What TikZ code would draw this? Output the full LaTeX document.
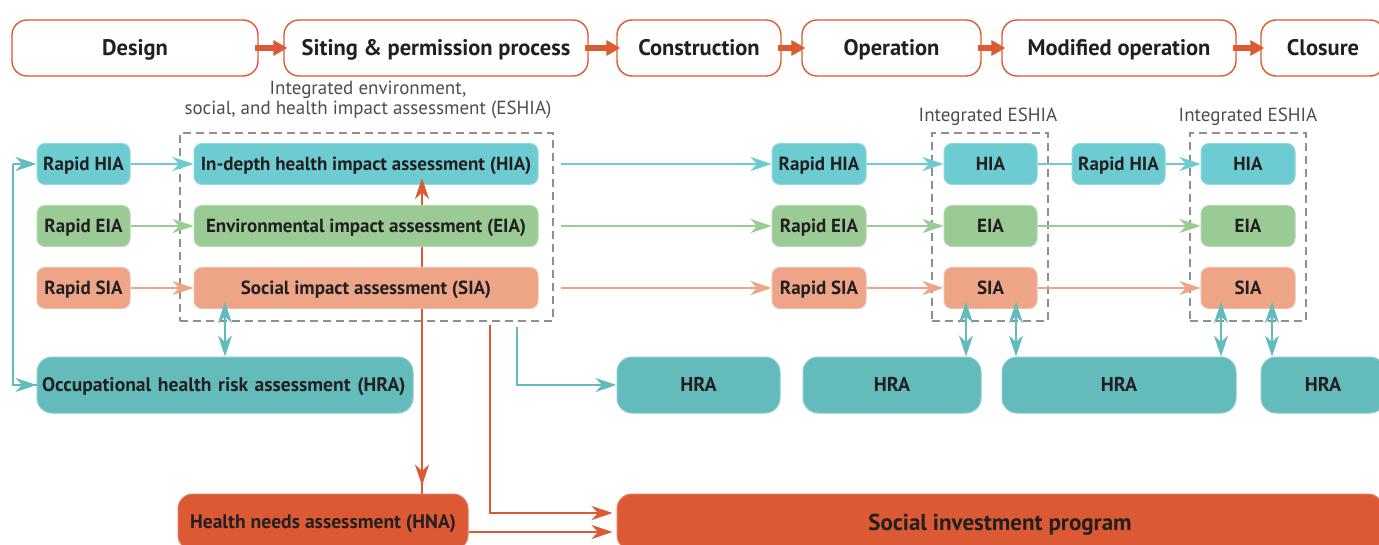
\documentclass[tikz,border=0pt]{standalone}
\usepackage{fontspec}
\setmainfont{PT Sans}
\usetikzlibrary{arrows.meta,backgrounds}

\definecolor{ink}{HTML}{231F20}
\definecolor{accent}{HTML}{DC5A33}
\definecolor{hiacol}{HTML}{6DCBD2}
\definecolor{eiacol}{HTML}{9ACB94}
\definecolor{siacol}{HTML}{EDA487}
\definecolor{hracol}{HTML}{64BBBC}
\definecolor{dashgrey}{HTML}{8D8F92}
\definecolor{labelgrey}{HTML}{4D4D4F}

\tikzset{
  fishtip/.tip={Stealth[length=21pt, width=14pt, inset=6.5pt]},
  stage/.style={draw=accent, line width=1.4pt, fill=white, rounded corners=15pt,
    minimum height=56pt, inner sep=0pt, text=ink,
    font=\fontsize{22.5}{24}\selectfont\bfseries, text height=15.8pt, text depth=0pt},
  cell/.style={rounded corners=8pt, minimum height=41pt, inner sep=0pt, text=ink,
    line width=1pt, font=\fontsize{19}{21}\selectfont\bfseries,
    text height=13.3pt, text depth=0pt},
  hiabox/.style={cell, fill=hiacol, draw=hiacol!75!white},
  eiabox/.style={cell, fill=eiacol, draw=eiacol!75!white},
  siabox/.style={cell, fill=siacol, draw=siacol!75!white},
  bigbox/.style={rounded corners=15pt, minimum height=56pt, inner sep=0pt, text=ink,
    line width=1pt, font=\fontsize{19.6}{21}\selectfont\bfseries,
    text height=13.7pt, text depth=0pt},
  hrabox/.style={bigbox, fill=hracol, draw=hracol!75!white},
  redbox/.style={bigbox, fill=accent, draw=accent!80!white},
  eshia/.style={draw=dashgrey, dash pattern=on 8pt off 5pt, line width=2.6pt,
    inner sep=0pt},
  eslabel/.style={text=labelgrey, align=center, inner sep=0pt,
    font=\fontsize{19}{20}\selectfont},
  flow/.style={line width=2.4pt, -fishtip},
  twoway/.style={line width=2.4pt, draw=hracol, fishtip-fishtip, shorten <=-7pt},
  stagearrow/.style={draw=accent, line width=5.5pt, -{Triangle[length=14pt, width=15pt]},
    shorten <=-4pt, shorten >=-4pt},
}

\begin{document}
\begin{tikzpicture}[x=1pt, y=-1pt]
\clip (0,0) rectangle (1379,545);

% project stages
\node[stage, minimum width=246pt] (design)  at (135,48)    {Design};
\node[stage, minimum width=304pt] (siting)  at (436,48)    {Siting \& permission process};
\node[stage, minimum width=164pt] (constr)  at (699,48)    {Construction};
\node[stage, minimum width=179pt] (oper)    at (891.5,48)  {Operation};
\node[stage, minimum width=234pt] (modop)   at (1119,48)   {Modified operation};
\node[stage, minimum width=124pt] (closure) at (1323,48)   {Closure};

\draw[stagearrow] (design.east) -- (siting.west);
\draw[stagearrow] (siting.east) -- (constr.west);
\draw[stagearrow] (constr.east) -- (oper.west);
\draw[stagearrow] (oper.east) -- (modop.west);
\draw[stagearrow] (modop.east) -- (closure.west);

% integrated assessment frames
\node[eshia, minimum width=373pt, minimum height=188pt] (esbig) at (366.5,227) {};
\node[eshia, minimum width=116pt, minimum height=188pt] (esone) at (990,227) {};
\node[eshia, minimum width=116pt, minimum height=188pt] (estwo) at (1248,227) {};
\node[eslabel] (esbiglab) at (368,100) {Integrated environment,\\social, and health impact assessment (ESHIA)};
\node[eslabel] (esonelab) at (988,117) {Integrated ESHIA};
\node[eslabel] (estwolab) at (1248,117) {Integrated ESHIA};

% design stage: rapid screenings
\node[hiabox, minimum width=93pt] (rhia) at (83.5,164) {Rapid HIA};
\node[eiabox, minimum width=93pt] (reia) at (83.5,226) {Rapid EIA};
\node[siabox, minimum width=93pt] (rsia) at (83.5,288) {Rapid SIA};

% siting stage: in-depth assessments
\node[hiabox, minimum width=344pt] (ihia) at (366,164) {In-depth health impact assessment (HIA)};
\node[eiabox, minimum width=344pt] (ieia) at (366,226) {Environmental impact assessment (EIA)};
\node[siabox, minimum width=344pt] (isia) at (366,288) {Social impact assessment (SIA)};

% construction stage
\node[hiabox, minimum width=94pt] (chia) at (819,164) {Rapid HIA};
\node[eiabox, minimum width=94pt] (ceia) at (819,226) {Rapid EIA};
\node[siabox, minimum width=94pt] (csia) at (819,288) {Rapid SIA};

% operation stage
\node[hiabox, minimum width=93pt] (ohia) at (990.5,164) {HIA};
\node[eiabox, minimum width=93pt] (oeia) at (990.5,226) {EIA};
\node[siabox, minimum width=93pt] (osia) at (990.5,288) {SIA};

% modified operation stage
\node[hiabox, minimum width=93pt] (mhia) at (1118.5,164) {Rapid HIA};
\node[hiabox, minimum width=94pt] (fhia) at (1248,164) {HIA};
\node[eiabox, minimum width=94pt] (feia) at (1248,226) {EIA};
\node[siabox, minimum width=94pt] (fsia) at (1248,288) {SIA};

% occupational health risk assessments
\node[hrabox, minimum width=376pt, text width=366pt, align=left] (occ) at (225,385) {Occupational health risk assessment (HRA)};
\node[hrabox, minimum width=163pt, font=\fontsize{20}{22}\selectfont\bfseries] (hraone)   at (698.5,385) {HRA};
\node[hrabox, minimum width=178pt, font=\fontsize{20}{22}\selectfont\bfseries] (hratwo)   at (892,385)   {HRA};
\node[hrabox, minimum width=234pt, font=\fontsize{20}{22}\selectfont\bfseries] (hrathree) at (1119,385)  {HRA};
\node[hrabox, minimum width=124pt, font=\fontsize{20}{22}\selectfont\bfseries] (hrafour)  at (1323,385)  {HRA};

% health needs and social investment
\node[redbox, minimum width=290pt] (hna) at (323,522) {Health needs assessment (HNA)};
\node[redbox, minimum width=766pt, font=\fontsize{23}{25}\selectfont\bfseries,
  text height=16pt] (sip) at (1000,522) {Social investment program};

% connectors within the assessment rows
\draw[flow, draw=hiacol] (rhia) -- (ihia);
\draw[flow, draw=eiacol] (reia) -- (ieia);
\draw[flow, draw=siacol] (rsia) -- (isia);

\draw[flow, draw=hiacol] ([xshift=22pt]ihia.east) -- (chia.west);
\draw[flow, draw=eiacol] ([xshift=22pt]ieia.east) -- (ceia.west);
\draw[flow, draw=siacol] ([xshift=22pt]isia.east) -- (csia.west);

\draw[flow, draw=hiacol] (chia) -- (ohia);
\draw[flow, draw=eiacol] (ceia) -- (oeia);
\draw[flow, draw=siacol] (csia) -- (osia);

\draw[line width=2.4pt, draw=hiacol] (ohia) -- (mhia);
\draw[flow, draw=hiacol] (mhia) -- (fhia);
\draw[flow, draw=eiacol] (oeia) -- (feia);
\draw[flow, draw=siacol] (osia) -- (fsia);

% feedback loop on the left
\coordinate (loop) at (13,164);
\draw[line width=2.4pt, draw=hracol] (loop) |- (occ.west);
\draw[flow, draw=hracol] (loop) -- (rhia.west);
\draw[flow, draw=hracol] (loop |- occ.west) -- (occ.west);

% links to occupational risk assessments
\draw[twoway] (225,0 |- isia.south) -- (225,0 |- occ.north);
\draw[twoway] (966,0 |- osia.south) -- (966,0 |- hratwo.north);
\draw[twoway] (1016,0 |- osia.south) -- (1016,0 |- hrathree.north);
\draw[twoway] (1221,0 |- fsia.south) -- (1221,0 |- hrathree.north);
\draw[twoway] (1272,0 |- fsia.south) -- (1272,0 |- hrafour.north);

\coordinate (hrastart) at (517,327);
\draw[flow, draw=hracol] (hrastart) |- (hraone.west);

% health needs and social investment links
\begin{scope}[on background layer]
  \fill[white] (0,0) rectangle (1379,545);
  \draw[line width=2.4pt, draw=accent] (422,0 |- ihia.south) -- (422,0 |- hna.north);
\end{scope}
\draw[flow, draw=accent, shorten >=-7pt] (422,0 |- ieia.north) -- (422,0 |- ihia.south);
\draw[flow, draw=accent, shorten >=8pt] (422,0 |- isia.south) -- (422,0 |- hna.north);

\coordinate (sipstart) at (490,325);
\draw[flow, draw=accent, shorten >=4pt] (sipstart) |- (sip.west |- 0,513);
\draw[flow, draw=accent, shorten >=4pt] (hna.east |- 0,532) -- (sip.west |- 0,532);

\end{tikzpicture}
\end{document}
